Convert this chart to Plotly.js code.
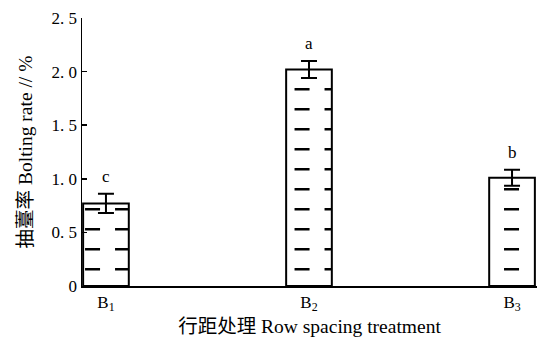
<!DOCTYPE html>
<html><head><meta charset="utf-8">
<script src="https://cdn.plot.ly/plotly-3.0.1.min.js"></script>
<style>html,body{margin:0;padding:0;background:#fff}</style>
</head><body>
<div id="chart" style="width:537px;height:344px"></div>
<script>
// Data
var categories = ['B<sub>1</sub>', 'B<sub>2</sub>', 'B<sub>3</sub>'];
var values = [0.77, 2.02, 1.01];
var errors = [0.09, 0.08, 0.075];
var letters = ['c', 'a', 'b'];
var yTickVals = [0, 0.5, 1.0, 1.5, 2.0, 2.5];
var yTickText = ['0', '0. 5', '1. 0', '1. 5', '2. 0', '2. 5'];

var FONT = 'Liberation Serif, Noto Sans CJK SC, serif';
var barWidth = 0.225;
var xs = categories.map(function (c, i) { return i; });

var bar = {
  type: 'bar', x: xs, y: values, width: barWidth,
  marker: { color: '#ffffff', line: { color: '#000', width: 2 } },
  error_y: { type: 'data', array: errors, visible: true, color: '#000', thickness: 2, width: 8 },
  hoverinfo: 'none'
};

// Hatch (horizontal dashes) decoration inside bars
var shapes = [];
var hatchStart = 0.156, hatchStep = 0.1866;
var dashPeriod = 0.1474, dashOrigin = -0.103;
xs.forEach(function (xi, i) {
  var left = xi - barWidth / 2, right = xi + barWidth / 2 - 0.004;
  var n = Math.ceil((left + 0.005 - dashOrigin) / dashPeriod);
  var x0 = dashOrigin + n * dashPeriod;
  for (var y = hatchStart; y < values[i] - 0.05; y += hatchStep) {
    shapes.push({ type: 'line', xref: 'x', yref: 'y', x0: x0, x1: right, y0: y, y1: y,
      line: { color: '#000', width: 2.5, dash: '15px,15px' }, layer: 'above' });
  }
});

var annotations = xs.map(function (xi, i) {
  return { x: xi, y: values[i] + errors[i], xref: 'x', yref: 'y', text: letters[i],
    showarrow: false, yanchor: 'bottom', yshift: 6, font: { family: FONT, size: 17, color: '#000' } };
});

var layout = {
  width: 537, height: 344,
  margin: { l: 82, r: 0, t: 18, b: 58 },
  paper_bgcolor: '#fff', plot_bgcolor: '#fff',
  showlegend: false,
  font: { family: FONT, color: '#000', size: 16 },
  xaxis: {
    range: [-0.118, 2.123], tickvals: xs, ticktext: categories,
    showline: true, linecolor: '#000', linewidth: 1.5, ticks: '', showgrid: false, zeroline: false,
    tickfont: { family: FONT, size: 17 },
    title: { text: '行距处理 Row spacing treatment', font: { family: FONT, size: 19.5 }, standoff: 6 }
  },
  yaxis: {
    range: [0, 2.5], tickvals: yTickVals, ticktext: yTickText,
    showline: true, linecolor: '#000', linewidth: 1.5, ticks: 'inside', ticklen: 5, tickwidth: 1.5,
    tickcolor: '#000', showgrid: false, zeroline: false,
    tickfont: { family: FONT, size: 17 },
    title: { text: '抽薹率 Bolting rate // %', font: { family: FONT, size: 19.5 }, standoff: 14 }
  },
  shapes: shapes,
  annotations: annotations
};

Plotly.newPlot('chart', [bar], layout, { staticPlot: true, displayModeBar: false });
</script>
</body></html>
